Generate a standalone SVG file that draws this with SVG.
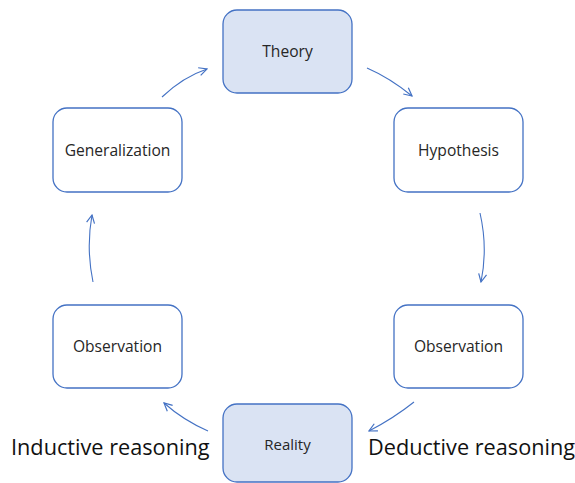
<svg xmlns="http://www.w3.org/2000/svg" width="575" height="483" viewBox="0 0 575 483">
  <defs>
    <marker id="arrow" viewBox="0 0 10 10" refX="9" refY="5" markerWidth="10" markerHeight="10" markerUnits="userSpaceOnUse" orient="auto">
      <path d="M1,1 L9,5 L1,9" fill="none" stroke="#4472C4" stroke-width="1.2"/>
    </marker>
    <style>
      .box { fill: #FFFFFF; stroke: #4472C4; stroke-width: 1.3; }
      .box.hi { fill: #DAE3F3; }
      .lbl { font-family: "Open Sans", "Liberation Sans", sans-serif; font-size: 15.6px; fill: #262626; text-anchor: middle; dominant-baseline: central; }
      .big { font-family: "Open Sans", "Liberation Sans", sans-serif; font-size: 21.7px; fill: #111111; }
      .conn { fill: none; stroke: #4472C4; stroke-width: 1.1; marker-end: url(#arrow); }
    </style>
  </defs>
  <rect width="575" height="483" fill="#FFFFFF"/>

  <g id="theory">
    <rect class="box hi" x="223" y="10" width="129" height="83" rx="14"/>
    <text class="lbl" x="287.5" y="51">Theory</text>
  </g>
  <g id="hypothesis">
    <rect class="box" x="394" y="108" width="129" height="84" rx="14"/>
    <text class="lbl" x="458.5" y="150">Hypothesis</text>
  </g>
  <g id="observation-right">
    <rect class="box" x="394" y="305" width="129" height="83" rx="14"/>
    <text class="lbl" x="458.5" y="346">Observation</text>
  </g>
  <g id="reality">
    <rect class="box hi" x="223" y="404" width="129" height="78" rx="14"/>
    <text class="lbl" x="287.5" y="444" style="font-size:15px">Reality</text>
  </g>
  <g id="observation-left">
    <rect class="box" x="53" y="305" width="129" height="83" rx="14"/>
    <text class="lbl" x="117.5" y="346">Observation</text>
  </g>
  <g id="generalization">
    <rect class="box" x="53" y="108" width="129" height="84" rx="14"/>
    <text class="lbl" x="117.5" y="150">Generalization</text>
  </g>

  <g id="connectors">
    <path class="conn" d="M367,68 Q390,78 412,96"/>
    <path class="conn" d="M480,213 Q488,248 481,282"/>
    <path class="conn" d="M414,402 Q394,418 369,431"/>
    <path class="conn" d="M208,431 Q183,420 164,403"/>
    <path class="conn" d="M93,282 Q86,248 92,215"/>
    <path class="conn" d="M162,97 Q183,77 207,69"/>
  </g>

  <g id="captions">
    <text class="big" x="11" y="455">Inductive reasoning</text>
    <text class="big" x="368" y="455">Deductive reasoning</text>
  </g>
</svg>
